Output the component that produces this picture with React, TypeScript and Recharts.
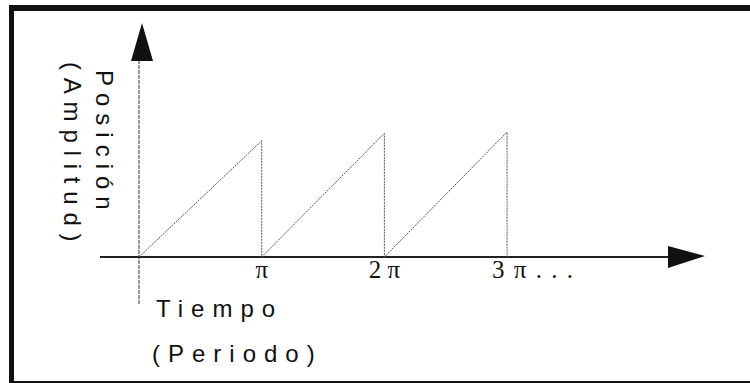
import React from "react";
import { LineChart, Line, XAxis, YAxis, ReferenceLine } from "recharts";

// Sawtooth wave: time in units of π, position (amplitude) normalised
const periodPositions = [0, 1, 1, 2, 2, 3, 3];
const positionValues = [0, 0.93, 0, 0.99, 0, 1.0, 0];
const tickValues = [1, 2, 3];
const tickLabels = ["π", "2 π", "3 π . . ."];
const yAxisTitle = ["Posición", "(Amplitud)"];
const xAxisTitle = ["Tiempo", "(Periodo)"];

const data = periodPositions.map((t, i) => ({ t, pos: positionValues[i] }));

const sans = "'Liberation Sans', Arial, sans-serif";
const serif = "'Liberation Serif', 'Times New Roman', serif";

const Tick = (props: any) => {
  const { x, y, payload } = props;
  const idx = tickValues.indexOf(payload.value);
  const label = tickLabels[idx] ?? "";
  const trailing = label.includes(".");
  return (
    <text
      x={trailing ? x - 15 : x}
      y={y}
      textAnchor={trailing ? "start" : "middle"}
      fontFamily={serif}
      fontSize={25}
      letterSpacing={trailing ? 1.5 : 0}
      fill="#111"
    >
      {label}
    </text>
  );
};

const XArrowAxis = (props: any) => {
  const { x1, y1, x2 } = props;
  const left = Math.min(x1, x2);
  const right = Math.max(x1, x2);
  return (
    <g>
      <line x1={left} y1={y1} x2={right} y2={y1} stroke="#222" strokeWidth={1.8} />
      <polygon
        points={`${right - 2},${y1 - 11} ${right + 35},${y1 - 1} ${right - 2},${y1 + 11}`}
        fill="#111"
      />
    </g>
  );
};

const YArrowAxis = (props: any) => {
  const { x1, y1, y2 } = props;
  const top = Math.min(y1, y2);
  const bottom = Math.max(y1, y2);
  return (
    <g>
      <line x1={x1} y1={top} x2={x1} y2={bottom} stroke="#333" strokeWidth={1} strokeDasharray="4 1" />
      <polygon
        points={`${x1 - 8},${top + 1} ${x1 + 3},${top - 37} ${x1 + 14},${top + 1}`}
        fill="#111"
      />
    </g>
  );
};

export default function App() {
  return (
    <div
      style={{
        position: "fixed",
        left: 0,
        top: 0,
        width: 750,
        height: 383,
        background: "#fff",
        overflow: "hidden",
      }}
    >
      <div
        style={{
          position: "absolute",
          left: 9,
          top: 5,
          width: 760,
          height: 370,
          borderTop: "6px solid #111",
          borderLeft: "5px solid #111",
          borderBottom: "4px solid #111",
        }}
      />
      <div style={{ position: "absolute", left: 0, top: 0 }}>
        <LineChart
          width={750}
          height={383}
          data={data}
          margin={{ top: 60, right: 80, bottom: 48, left: 100 }}
        >
          <XAxis
            dataKey="t"
            type="number"
            domain={[-0.318, 4.328]}
            ticks={tickValues}
            allowDataOverflow
            axisLine={false}
            tickLine={false}
            tickSize={0}
            tickMargin={0}
            height={30}
            interval={0}
            tick={(p: any) => <Tick {...p} y={278} />}
          />
          <YAxis type="number" domain={[-0.384, 1.576]} allowDataOverflow hide />
          <ReferenceLine x={0} shape={<YArrowAxis />} />
          <ReferenceLine y={0} shape={<XArrowAxis />} />
          <Line
            type="linear"
            dataKey="pos"
            stroke="#555"
            strokeWidth={1}
            strokeDasharray="2 1"
            dot={false}
            activeDot={false}
            isAnimationActive={false}
          />
          <text
            x={96}
            y={70}
            transform="rotate(90 96 70)"
            fontFamily={sans}
            fontSize={24}
            letterSpacing={7}
            fill="#111"
          >
            {yAxisTitle[0]}
          </text>
          <text
            x={64}
            y={62}
            transform="rotate(90 64 62)"
            fontFamily={sans}
            fontSize={24}
            letterSpacing={7.8}
            fill="#111"
          >
            {yAxisTitle[1]}
          </text>
          <text x={156} y={317} fontFamily={sans} fontSize={24} letterSpacing={8} fill="#111">
            {xAxisTitle[0]}
          </text>
          <text x={152} y={362} fontFamily={sans} fontSize={24} letterSpacing={8} fill="#111">
            {xAxisTitle[1]}
          </text>
        </LineChart>
      </div>
    </div>
  );
}
